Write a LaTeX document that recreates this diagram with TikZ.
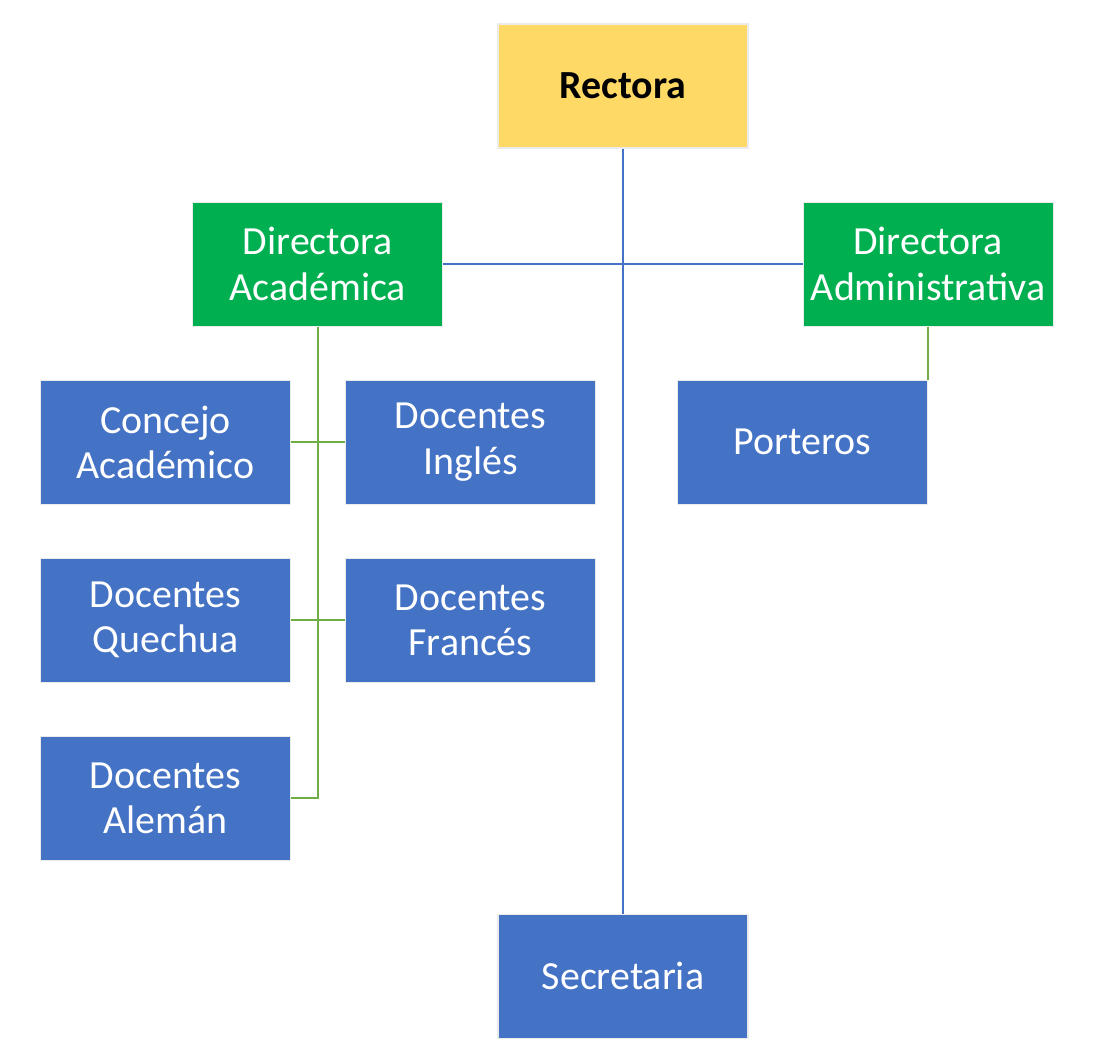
\documentclass[tikz,border=0pt]{standalone}
\usepackage{fontspec}
\setmainfont{Carlito}
\usetikzlibrary{positioning}
\definecolor{amarillo}{HTML}{FFD966}
\definecolor{verde}{HTML}{00B050}
\definecolor{azul}{HTML}{4472C4}
\definecolor{verdelin}{HTML}{70AD47}
\begin{document}
\begin{tikzpicture}[
		caja/.style={draw=black!8,line width=0.6pt,rectangle,node distance=1.06cm,align=center,minimum width=5cm,minimum height=2.48cm,inner sep=0pt,font=\fontsize{22.7}{25.8}\selectfont},
		jefe/.style={caja,fill=amarillo,text=black,font=\fontsize{22.7}{25.8}\selectfont\bfseries},
		dire/.style={caja,fill=verde,text=white},
		docen/.style={caja,fill=azul,text=white},
		linaz/.style={draw=azul,line width=1.1pt},
		linve/.style={draw=verdelin,line width=1.1pt}]
		\useasboundingbox (0,0) rectangle (21.94,-21.16);
		\node (rec) [jefe] at (12.46,-1.72) {Rectora};
		\node (dac) [dire, below left=1.06cm and 1.08cm of rec] {Directora\\Académica};
		\node (dad) [dire, below right=1.06cm and 1.08cm of rec] {Directora\\Administrativa};
		\node (cac) [docen, below left=1.06cm and 0.54cm of dac.south] {Concejo\\Académico};
		\node (ing) [docen, below right=1.06cm and 0.54cm of dac.south] {Docentes\\Inglés};
		\node (que) [docen, below=of cac] {Docentes\\Quechua};
		\node (fra) [docen, below=of ing] {Docentes\\Francés};
		\node (ale) [docen, below=of que] {Docentes\\Alemán};
		\node (por) [docen, below left=1.06cm and 0cm of dad.south] {Porteros};
		\node (sec) [docen, below=15.3cm of rec] {Secretaria};
		\draw [linaz] (rec) -- (sec);
		\draw [linaz] (dac) -- (dad);
		\draw [linve] (dac.south) |- (ale.east);
		\draw [linve] (cac) -- (ing);
		\draw [linve] (que) -- (fra);
		\draw [linve] (dad.south) -- (por.north east);
	\end{tikzpicture}
\end{document}
